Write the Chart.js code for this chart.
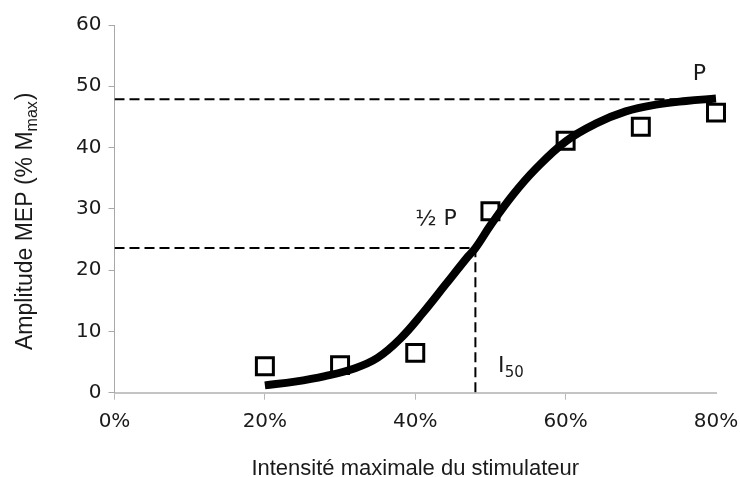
<!DOCTYPE html>
<html>
<head>
<meta charset="utf-8">
<script src="https://cdn.jsdelivr.net/npm/chart.js@4/dist/chart.umd.min.js"></script>
<style>
  html, body { margin: 0; padding: 0; background: #fff; }
  canvas { display: block; }
</style>
</head>
<body>
<canvas id="chart" width="740" height="477"></canvas>
<script>
// Données mesurées (carrés)
const stimIntensity = [20, 30, 40, 50, 60, 70, 80];
const mepAmplitude = [4.3, 4.5, 6.5, 29.6, 41.1, 43.4, 45.7];

// Courbe d'ajustement
const fitIntensity = [20, 24, 28, 32, 35, 38, 41, 44, 47, 48, 50, 53, 56, 60, 64, 68, 72, 76, 80];
const fitAmplitude = [1.2, 1.8, 2.7, 4.0, 5.7, 8.8, 13.0, 17.6, 22.2, 23.6, 27.3, 32.3, 36.5, 41.0, 43.9, 45.9, 47.0, 47.6, 48.0];

// Repères P, ½ P et I50
const plateau = 47.9;
const halfPlateau = 23.6;
const i50 = 48;

// Axes
const xTicks = [0, 20, 40, 60, 80];
const yTicks = [0, 10, 20, 30, 40, 50, 60];

const TEXT = '#1a1a1a';

const toPoints = (xs, ys) => xs.map((x, i) => ({ x: x, y: ys[i] }));

// Titres et annotations (avec indices)
const labelsPlugin = {
    id: 'labels',
    afterDraw(chart) {
        const ctx = chart.ctx;
        const x = chart.scales.x;
        const y = chart.scales.y;
        ctx.save();
        ctx.fillStyle = TEXT;
        ctx.textBaseline = 'alphabetic';

        // titre axe X
        ctx.font = '22px "Liberation Sans", Arial, sans-serif';
        ctx.textAlign = 'center';
        ctx.fillText('Intensité maximale du stimulateur', (chart.chartArea.left + chart.chartArea.right) / 2, 475);

        // titre axe Y
        ctx.save();
        ctx.translate(32, 350);
        ctx.rotate(-Math.PI / 2);
        ctx.textAlign = 'left';
        ctx.font = '23px "Liberation Sans", Arial, sans-serif';
        const main = 'Amplitude MEP (% M';
        ctx.fillText(main, 0, 0);
        let w = ctx.measureText(main).width;
        ctx.font = '16px "Liberation Sans", Arial, sans-serif';
        ctx.fillText('max', w, 5);
        w += ctx.measureText('max').width;
        ctx.font = '23px "Liberation Sans", Arial, sans-serif';
        ctx.fillText(')', w + 1, 0);
        ctx.restore();

        // annotations
        ctx.textAlign = 'left';
        ctx.font = '22px "DejaVu Sans", sans-serif';
        ctx.fillText('P', x.getPixelForValue(76.9), y.getPixelForValue(51.1));
        ctx.fillText('½ P', x.getPixelForValue(40), y.getPixelForValue(27.3));
        ctx.fillText('I', x.getPixelForValue(51.0), y.getPixelForValue(3.3));
        ctx.font = '15px "DejaVu Sans", sans-serif';
        ctx.fillText('50', x.getPixelForValue(51.9), y.getPixelForValue(2.6));
        ctx.restore();
    }
};

const dashStyle = {
    borderColor: '#000',
    borderWidth: 2,
    borderDash: [10, 5],
    pointRadius: 0,
    tension: 0,
    order: 3
};

new Chart(document.getElementById('chart'), {
    type: 'line',
    data: {
        datasets: [
            Object.assign({ label: 'P', data: [{ x: 0, y: plateau }, { x: 80, y: plateau }] }, dashStyle),
            Object.assign({ label: '½ P', data: [{ x: 0, y: halfPlateau }, { x: i50, y: halfPlateau }, { x: i50, y: 0 }] }, dashStyle),
            {
                label: 'Mesures',
                data: toPoints(stimIntensity, mepAmplitude),
                showLine: false,
                pointStyle: 'rect',
                pointRadius: 12,
                pointBorderWidth: 3,
                pointBorderColor: '#000',
                pointBackgroundColor: 'rgba(255,255,255,0)',
                clip: false,
                order: 2
            },
            {
                label: 'Ajustement',
                data: toPoints(fitIntensity, fitAmplitude),
                borderColor: '#000',
                borderWidth: 8,
                pointRadius: 0,
                tension: 0.4,
                clip: false,
                order: 1
            }
        ]
    },
    options: {
        responsive: false,
        animation: false,
        events: [],
        layout: { padding: { top: 25, right: 24, left: 0, bottom: 0 } },
        plugins: {
            legend: { display: false },
            tooltip: { enabled: false }
        },
        scales: {
            x: {
                type: 'linear',
                min: 0,
                max: 80,
                afterBuildTicks: s => { s.ticks = xTicks.map(v => ({ value: v })); },
                afterFit: s => {
                    s.height = 84.3;
                    s.paddingLeft = 0;
                    s.paddingRight = 0;
                },
                ticks: {
                    callback: v => v + '%',
                    font: { family: '"DejaVu Sans", sans-serif', size: 20 },
                    color: TEXT,
                    padding: 10,
                    maxRotation: 0
                },
                grid: {
                    drawOnChartArea: false,
                    tickLength: 7,
                    tickColor: c => c.index === 4 ? 'rgba(0,0,0,0)' : '#b8b8b8'
                },
                border: { color: '#c4c4c4', width: 2 }
            },
            y: {
                min: 0,
                max: 60,
                afterBuildTicks: s => { s.ticks = yTicks.map(v => ({ value: v })); },
                afterFit: s => {
                    s.width = 114.5;
                    s.paddingTop = 0;
                    s.paddingBottom = 0;
                },
                ticks: {
                    font: { family: '"DejaVu Sans", sans-serif', size: 20 },
                    color: TEXT,
                    padding: 7
                },
                grid: {
                    drawOnChartArea: false,
                    tickLength: 6,
                    tickColor: '#a8a8a8'
                },
                border: { color: '#a8a8a8', width: 1 }
            }
        }
    },
    plugins: [labelsPlugin]
});
</script>
</body>
</html>
